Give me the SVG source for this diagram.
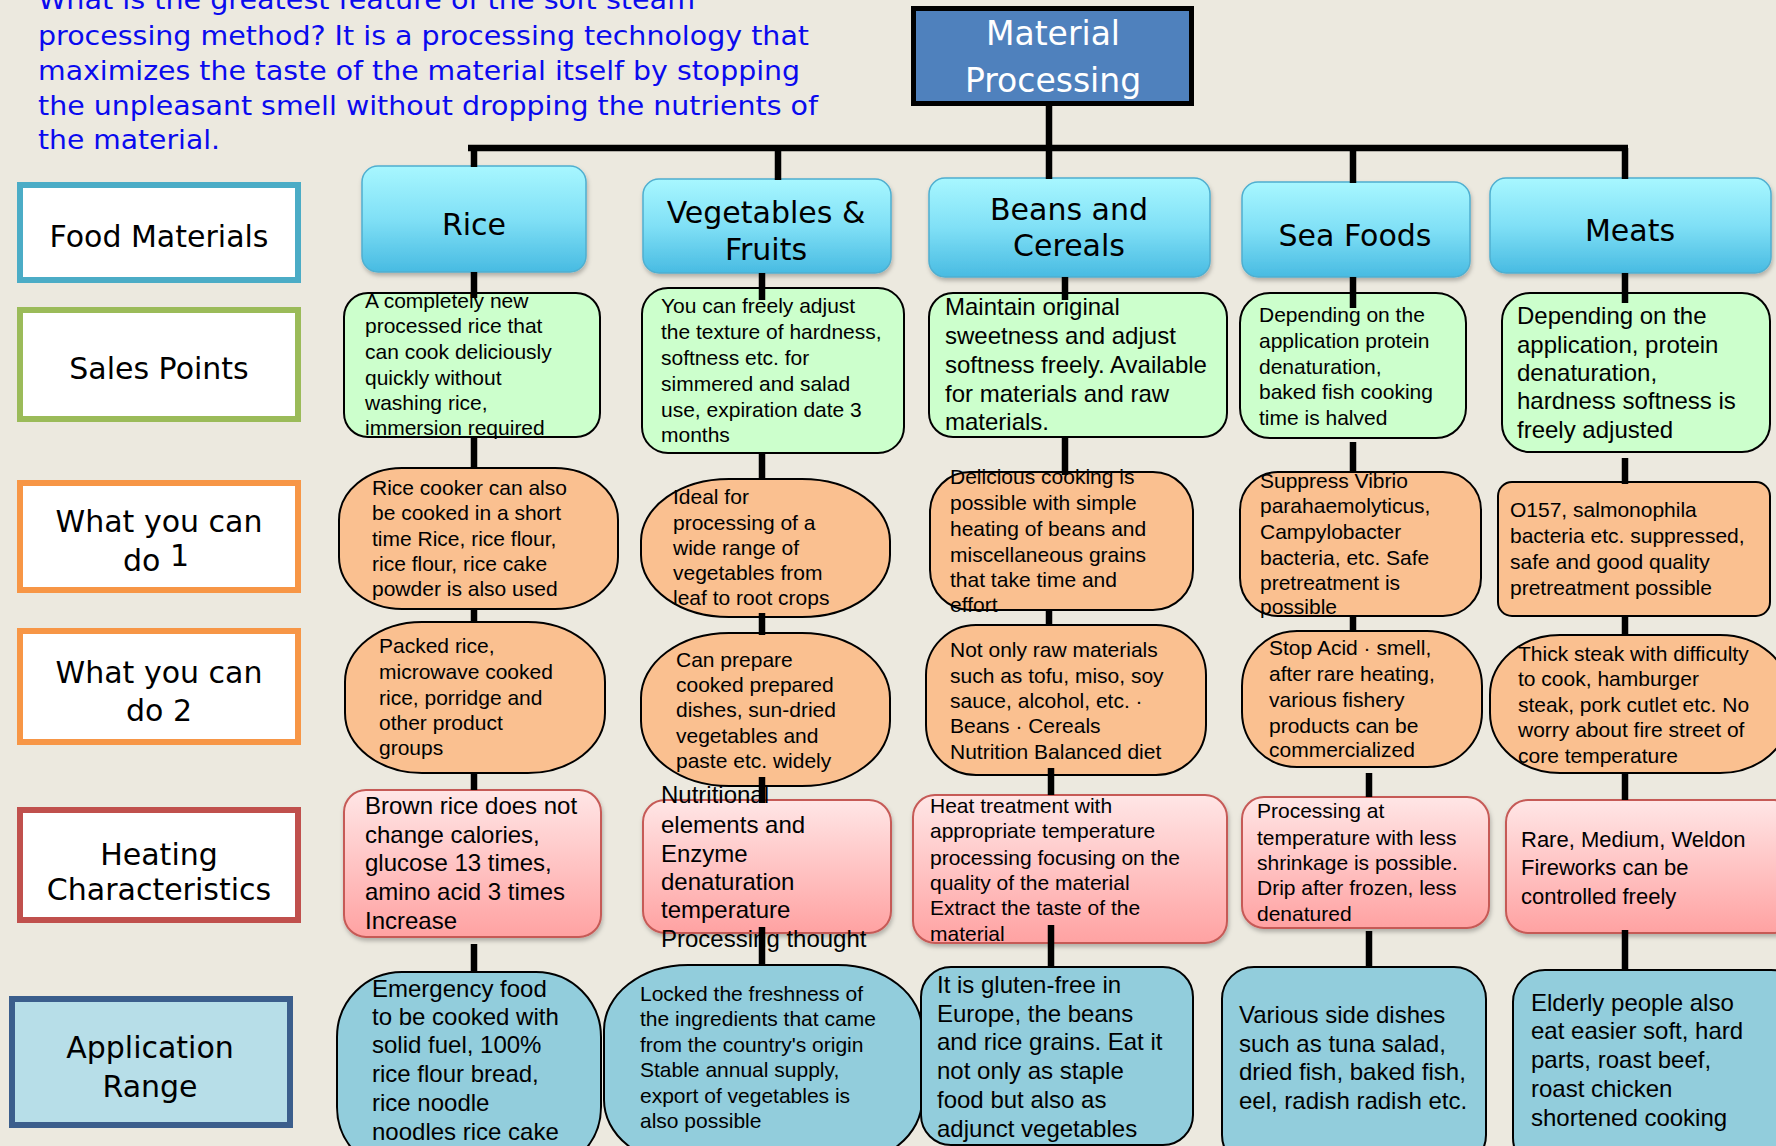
<svg xmlns="http://www.w3.org/2000/svg" width="1776" height="1146" viewBox="0 0 1776 1146">
<defs>
<linearGradient id="gC" x1="0" y1="0" x2="0" y2="1">
<stop offset="0" stop-color="#A8F7FF"/><stop offset="0.5" stop-color="#80E0F6"/><stop offset="1" stop-color="#48BBE2"/>
</linearGradient>
<linearGradient id="gH" x1="0" y1="0" x2="0" y2="1">
<stop offset="0" stop-color="#FFE6E6"/><stop offset="1" stop-color="#FFA2A2"/>
</linearGradient>
<filter id="sh" x="-10%" y="-10%" width="120%" height="130%">
<feDropShadow dx="1" dy="3" stdDeviation="2" flood-color="#000" flood-opacity="0.25"/>
</filter>
</defs>
<style>
.t{font-family:"Liberation Sans",Arial,sans-serif;fill:#000}
.s{font-size:21px}
.l{font-size:24px}
.lab{font-family:"DejaVu Sans",Verdana,sans-serif;font-size:30px;text-anchor:middle;fill:#000}
.ttl{font-family:"DejaVu Sans",Verdana,sans-serif;font-size:27px;fill:#0A0AEE}
.lb{fill:#FFFFFF;stroke-width:6}
.cat{fill:url(#gC);stroke:#4FAFD0;stroke-width:1.5;filter:url(#sh)}
.sp{fill:#CCFFCC;stroke:#000;stroke-width:2}
.or{fill:#FAC090;stroke:#000;stroke-width:2}
.ht{fill:url(#gH);stroke:#C65A57;stroke-width:2;filter:url(#sh)}
.ap{fill:#92CDDC;stroke:#000;stroke-width:2}
.conn path{stroke:#000;stroke-width:6.5;fill:none}
</style>
<rect x="0" y="0" width="1776" height="1146" fill="#ECE9DF"/>

<g id="title" class="ttl">
<text x="38" y="9" textLength="657" lengthAdjust="spacingAndGlyphs">What is the greatest feature of the soft steam</text>
<text x="38" y="45" textLength="771" lengthAdjust="spacingAndGlyphs">processing method? It is a processing technology that</text>
<text x="38" y="80" textLength="762" lengthAdjust="spacingAndGlyphs">maximizes the taste of the material itself by stopping</text>
<text x="38" y="115" textLength="780" lengthAdjust="spacingAndGlyphs">the unpleasant smell without dropping the nutrients of</text>
<text x="38" y="149" textLength="182" lengthAdjust="spacingAndGlyphs">the material.</text>
</g>

<g id="root">
<rect x="913.5" y="8.5" width="278" height="95" fill="#4F81BD" stroke="#000" stroke-width="5"/>
<text class="lab" x="1053" y="45" style="fill:#FFFFFF;font-size:33px">Material</text>
<text class="lab" x="1053" y="92" style="fill:#FFFFFF;font-size:33px">Processing</text>
</g>

<g id="label-food">
<rect class="lb" x="20" y="185" width="278" height="95" stroke="#4BACC6"/>
<text class="lab" x="159" y="247">Food Materials</text>
</g>
<g id="label-sales">
<rect class="lb" x="20" y="310" width="278" height="109" stroke="#9BBB59"/>
<text class="lab" x="159" y="379">Sales Points</text>
</g>
<g id="label-do1">
<rect class="lb" x="20" y="483" width="278" height="107" stroke="#F79646"/>
<text class="lab" x="159" y="532">What you can</text>
<text class="lab" x="156" y="571">do <tspan dy="-5">1</tspan></text>
</g>
<g id="label-do2">
<rect class="lb" x="20" y="631" width="278" height="111" stroke="#F79646"/>
<text class="lab" x="159" y="683">What you can</text>
<text class="lab" x="159" y="721">do 2</text>
</g>
<g id="label-heat">
<rect class="lb" x="20" y="810" width="278" height="110" stroke="#C0504D"/>
<text class="lab" x="159" y="865">Heating</text>
<text class="lab" x="159" y="900">Characteristics</text>
</g>
<g id="label-app">
<rect x="12" y="999" width="278" height="126" fill="#B7DEE8" stroke="#3B5E8C" stroke-width="6"/>
<text class="lab" x="150" y="1058">Application</text>
<text class="lab" x="150" y="1097">Range</text>
</g>

<g id="cat-rice"><rect class="cat" x="362" y="166" width="224" height="106" rx="16"/><text class="lab" x="474" y="235">Rice</text></g>
<g id="cat-veg"><rect class="cat" x="643" y="179" width="248" height="94" rx="16"/><text class="lab" x="766" y="223">Vegetables &amp;</text><text class="lab" x="766" y="260">Fruits</text></g>
<g id="cat-beans"><rect class="cat" x="929" y="178" width="281" height="99" rx="16"/><text class="lab" x="1069" y="220">Beans and</text><text class="lab" x="1069" y="256">Cereals</text></g>
<g id="cat-sea"><rect class="cat" x="1242" y="182" width="228" height="95" rx="16"/><text class="lab" x="1355" y="246">Sea Foods</text></g>
<g id="cat-meats"><rect class="cat" x="1490" y="178" width="281" height="95" rx="16"/><text class="lab" x="1630" y="241">Meats</text></g>

<g id="sp-rice"><rect class="sp" x="344" y="293" width="256" height="144" rx="24"/>
<text class="t s"><tspan x="365" y="308">A completely new</tspan><tspan x="365" y="333">processed rice that</tspan><tspan x="365" y="359">can cook deliciously</tspan><tspan x="365" y="385">quickly without</tspan><tspan x="365" y="410">washing rice,</tspan><tspan x="365" y="435">immersion required</tspan></text></g>
<g id="sp-veg"><rect class="sp" x="642" y="288" width="262" height="165" rx="26"/>
<text class="t s"><tspan x="661" y="313">You can freely adjust</tspan><tspan x="661" y="339">the texture of hardness,</tspan><tspan x="661" y="365">softness etc. for</tspan><tspan x="661" y="391">simmered and salad</tspan><tspan x="661" y="417">use, expiration date 3</tspan><tspan x="661" y="442">months</tspan></text></g>
<g id="sp-beans"><rect class="sp" x="929" y="293" width="298" height="144" rx="24"/>
<text class="t l"><tspan x="945" y="315">Maintain original</tspan><tspan x="945" y="344">sweetness and adjust</tspan><tspan x="945" y="373">softness freely. Available</tspan><tspan x="945" y="402">for materials and raw</tspan><tspan x="945" y="430">materials.</tspan></text></g>
<g id="sp-sea"><rect class="sp" x="1240" y="293" width="226" height="145" rx="30"/>
<text class="t s"><tspan x="1259" y="322">Depending on the</tspan><tspan x="1259" y="348">application protein</tspan><tspan x="1259" y="374">denaturation,</tspan><tspan x="1259" y="399">baked fish cooking</tspan><tspan x="1259" y="425">time is halved</tspan></text></g>
<g id="sp-meats"><rect class="sp" x="1502" y="293" width="268" height="159" rx="28"/>
<text class="t l"><tspan x="1517" y="324">Depending on the</tspan><tspan x="1517" y="353">application, protein</tspan><tspan x="1517" y="381">denaturation,</tspan><tspan x="1517" y="409">hardness softness is</tspan><tspan x="1517" y="438">freely adjusted</tspan></text></g>

<g id="do1-rice"><rect class="or" x="339" y="468" width="279" height="141" rx="63" ry="52"/>
<text class="t s"><tspan x="372" y="495">Rice cooker can also</tspan><tspan x="372" y="520">be cooked in a short</tspan><tspan x="372" y="546">time Rice, rice flour,</tspan><tspan x="372" y="571">rice flour, rice cake</tspan><tspan x="372" y="596">powder is also used</tspan></text></g>
<g id="do1-veg"><rect class="or" x="641" y="479" width="249" height="138" rx="88" ry="62"/>
<text class="t s"><tspan x="673" y="504">Ideal for</tspan><tspan x="673" y="530">processing of a</tspan><tspan x="673" y="555">wide range of</tspan><tspan x="673" y="580">vegetables from</tspan><tspan x="673" y="605">leaf to root crops</tspan></text></g>
<g id="do1-beans"><rect class="or" x="930" y="472" width="263" height="138" rx="40"/>
<text class="t s"><tspan x="950" y="484">Delicious cooking is</tspan><tspan x="950" y="510">possible with simple</tspan><tspan x="950" y="536">heating of beans and</tspan><tspan x="950" y="562">miscellaneous grains</tspan><tspan x="950" y="587">that take time and</tspan><tspan x="950" y="612">effort</tspan></text></g>
<g id="do1-sea"><rect class="or" x="1240" y="472" width="241" height="144" rx="38"/>
<text class="t s"><tspan x="1260" y="488">Suppress Vibrio</tspan><tspan x="1260" y="513">parahaemolyticus,</tspan><tspan x="1260" y="539">Campylobacter</tspan><tspan x="1260" y="565">bacteria, etc. Safe</tspan><tspan x="1260" y="590">pretreatment is</tspan><tspan x="1260" y="614">possible</tspan></text></g>
<g id="do1-meats"><rect class="or" x="1498" y="482" width="272" height="134" rx="14"/>
<text class="t s"><tspan x="1510" y="517">O157, salmonophila</tspan><tspan x="1510" y="543">bacteria etc. suppressed,</tspan><tspan x="1510" y="569">safe and good quality</tspan><tspan x="1510" y="595">pretreatment possible</tspan></text></g>

<g id="do2-rice"><rect class="or" x="345" y="622" width="260" height="151" rx="77" ry="60"/>
<text class="t s"><tspan x="379" y="653">Packed rice,</tspan><tspan x="379" y="679">microwave cooked</tspan><tspan x="379" y="705">rice, porridge and</tspan><tspan x="379" y="730">other product</tspan><tspan x="379" y="755">groups</tspan></text></g>
<g id="do2-veg"><rect class="or" x="641" y="633" width="249" height="153" rx="88" ry="65"/>
<text class="t s"><tspan x="676" y="667">Can prepare</tspan><tspan x="676" y="692">cooked prepared</tspan><tspan x="676" y="717">dishes, sun-dried</tspan><tspan x="676" y="743">vegetables and</tspan><tspan x="676" y="768">paste etc. widely</tspan></text></g>
<g id="do2-beans"><rect class="or" x="926" y="625" width="280" height="150" rx="50"/>
<text class="t s"><tspan x="950" y="657">Not only raw materials</tspan><tspan x="950" y="683">such as tofu, miso, soy</tspan><tspan x="950" y="708">sauce, alcohol, etc. ·</tspan><tspan x="950" y="733">Beans · Cereals</tspan><tspan x="950" y="759">Nutrition Balanced diet</tspan></text></g>
<g id="do2-sea"><rect class="or" x="1242" y="631" width="240" height="136" rx="55"/>
<text class="t s"><tspan x="1269" y="655">Stop Acid · smell,</tspan><tspan x="1269" y="681">after rare heating,</tspan><tspan x="1269" y="707">various fishery</tspan><tspan x="1269" y="733">products can be</tspan><tspan x="1269" y="757">commercialized</tspan></text></g>
<g id="do2-meats"><rect class="or" x="1490" y="635" width="300" height="138" rx="70" ry="60"/>
<text class="t s"><tspan x="1518" y="661">Thick steak with difficulty</tspan><tspan x="1518" y="686">to cook, hamburger</tspan><tspan x="1518" y="712">steak, pork cutlet etc. No</tspan><tspan x="1518" y="737">worry about fire street of</tspan><tspan x="1518" y="763">core temperature</tspan></text></g>

<g id="heat-rice"><rect class="ht" x="344" y="790" width="257" height="147" rx="22"/>
<text class="t l"><tspan x="365" y="814">Brown rice does not</tspan><tspan x="365" y="843">change calories,</tspan><tspan x="365" y="871">glucose 13 times,</tspan><tspan x="365" y="900">amino acid 3 times</tspan><tspan x="365" y="929">Increase</tspan></text></g>
<g id="heat-veg"><rect class="ht" x="643" y="800" width="248" height="133" rx="22"/>
<text class="t l"><tspan x="661" y="803">Nutritional</tspan><tspan x="661" y="833">elements and</tspan><tspan x="661" y="862">Enzyme</tspan><tspan x="661" y="890">denaturation</tspan><tspan x="661" y="918">temperature</tspan><tspan x="661" y="947">Processing thought</tspan></text></g>
<g id="heat-beans"><rect class="ht" x="913" y="795" width="314" height="148" rx="22"/>
<text class="t s"><tspan x="930" y="813">Heat treatment with</tspan><tspan x="930" y="838">appropriate temperature</tspan><tspan x="930" y="865">processing focusing on the</tspan><tspan x="930" y="890">quality of the material</tspan><tspan x="930" y="915">Extract the taste of the</tspan><tspan x="930" y="941">material</tspan></text></g>
<g id="heat-sea"><rect class="ht" x="1242" y="797" width="247" height="131" rx="22"/>
<text class="t s"><tspan x="1257" y="818">Processing at</tspan><tspan x="1257" y="845">temperature with less</tspan><tspan x="1257" y="870">shrinkage is possible.</tspan><tspan x="1257" y="895">Drip after frozen, less</tspan><tspan x="1257" y="921">denatured</tspan></text></g>
<g id="heat-meats"><rect class="ht" x="1506" y="800" width="290" height="133" rx="22"/>
<text class="t s" style="font-size:22px"><tspan x="1521" y="847">Rare, Medium, Weldon</tspan><tspan x="1521" y="875">Fireworks can be</tspan><tspan x="1521" y="904">controlled freely</tspan></text></g>

<g id="app-rice"><rect class="ap" x="337" y="972" width="264" height="200" rx="65" ry="65"/>
<text class="t l"><tspan x="372" y="997">Emergency food</tspan><tspan x="372" y="1025">to be cooked with</tspan><tspan x="372" y="1053">solid fuel, 100%</tspan><tspan x="372" y="1082">rice flour bread,</tspan><tspan x="372" y="1111">rice noodle</tspan><tspan x="372" y="1140">noodles rice cake</tspan></text></g>
<g id="app-veg"><rect class="ap" x="604" y="965" width="318" height="200" rx="84" ry="65"/>
<text class="t s"><tspan x="640" y="1001">Locked the freshness of</tspan><tspan x="640" y="1026">the ingredients that came</tspan><tspan x="640" y="1052">from the country's origin</tspan><tspan x="640" y="1077">Stable annual supply,</tspan><tspan x="640" y="1103">export of vegetables is</tspan><tspan x="640" y="1128">also possible</tspan></text></g>
<g id="app-beans"><rect class="ap" x="921" y="967" width="272" height="178" rx="30"/>
<text class="t l"><tspan x="937" y="993">It is gluten-free in</tspan><tspan x="937" y="1022">Europe, the beans</tspan><tspan x="937" y="1050">and rice grains. Eat it</tspan><tspan x="937" y="1079">not only as staple</tspan><tspan x="937" y="1108">food but also as</tspan><tspan x="937" y="1137">adjunct vegetables</tspan></text></g>
<g id="app-sea"><rect class="ap" x="1222" y="967" width="264" height="200" rx="32"/>
<text class="t l"><tspan x="1239" y="1023">Various side dishes</tspan><tspan x="1239" y="1052">such as tuna salad,</tspan><tspan x="1239" y="1080">dried fish, baked fish,</tspan><tspan x="1239" y="1109">eel, radish radish etc.</tspan></text></g>
<g id="app-meats"><rect class="ap" x="1513" y="970" width="290" height="200" rx="32"/>
<text class="t l"><tspan x="1531" y="1011">Elderly people also</tspan><tspan x="1531" y="1039">eat easier soft, hard</tspan><tspan x="1531" y="1068">parts, roast beef,</tspan><tspan x="1531" y="1097">roast chicken</tspan><tspan x="1531" y="1126">shortened cooking</tspan></text></g>

<g id="connectors" class="conn">
<path d="M1049 104V148M468 148H1628M474 148V167M778 148V180M1049 148V179M1353 148V183M1625 148V179"/>
<path d="M474 272V298M474 437V468M474 609V622M474 773V790M474 944V972"/>
<path d="M762 273V300M762 453V479M762 613V635M762 777V803M762 927V965"/>
<path d="M1065 277V300M1065 437V475M1049 610V625M1051 768V795M1051 925V967"/>
<path d="M1353 277V308M1353 442V472M1353 616V631M1369 773V797M1369 931V967"/>
<path d="M1625 273V303M1625 458V484M1625 616V635M1625 773V800M1625 930V970"/>
</g>
</svg>
